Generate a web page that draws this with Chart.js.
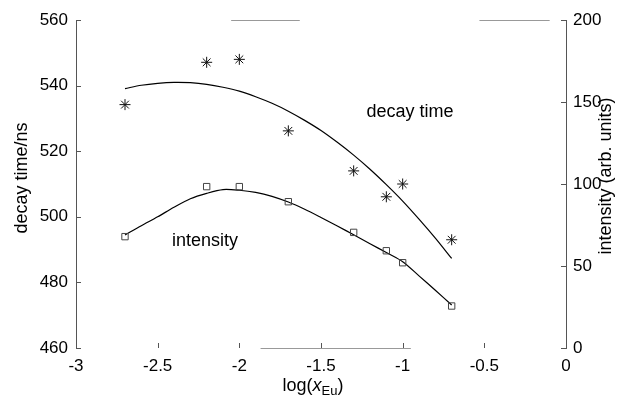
<!DOCTYPE html>
<html>
<head>
<meta charset="utf-8">
<script src="https://cdn.jsdelivr.net/npm/chart.js@4.4.0/dist/chart.umd.min.js"></script>
<style>
  body { margin: 0; background: #fff; }
  canvas { display: block; }
</style>
</head>
<body>
<canvas id="decayChart" width="632" height="401"></canvas>
<script>
// measured points (log of Eu fraction)
const logX = [-2.7, -2.2, -2.0, -1.7, -1.3, -1.1, -1.0, -0.7];
const decayTimes = [534.2, 547.1, 548.0, 526.2, 514.0, 506.1, 510.0, 493.0];
const intensities = [67.9, 98.4, 98.4, 89.2, 70.5, 59.3, 52.0, 25.6];

// fitted curves
const fitX = [-2.7, -2.6, -2.5, -2.4, -2.3, -2.2, -2.1, -2.0, -1.9, -1.8, -1.7,
              -1.6, -1.5, -1.4, -1.3, -1.2, -1.1, -1.0, -0.9, -0.8, -0.7];
const decayFit = [539.1, 540.1, 540.7, 541.0, 540.9, 540.4, 539.5, 538.3, 536.6, 534.6, 532.2,
                  529.4, 526.3, 522.7, 518.8, 514.5, 509.8, 504.8, 499.3, 493.5, 487.3];
const intensityFit = [68.9, 74.6, 80.0, 85.8, 91.0, 94.3, 96.6, 96.2, 94.9, 92.5, 89.0,
                      84.6, 79.6, 74.4, 69.0, 63.6, 58.2, 52.6, 44.0, 35.2, 26.2];

const xTicks = [-3, -2.5, -2, -1.5, -1, -0.5, 0];
const leftTicks = [460, 480, 500, 520, 540, 560];
const rightTicks = [0, 50, 100, 150, 200];

const FONT = '"Liberation Sans", Arial, Helvetica, sans-serif';

function pts(xs, ys) {
    return xs.map(function(x, i) { return { x: x, y: ys[i] }; });
}

// titles, inward ticks and in-plot labels
const decorPlugin = {
    id: 'decor',
    afterDraw: function(chart) {
        const ctx = chart.ctx;
        const a = chart.chartArea;
        const sx = chart.scales.x, sl = chart.scales.yL, sr = chart.scales.yR;
        ctx.save();

        // inward ticks
        ctx.strokeStyle = '#555';
        ctx.lineWidth = 1;
        ctx.beginPath();
        leftTicks.forEach(function(v) {
            const y = Math.round(sl.getPixelForValue(v)) + 0.5;
            ctx.moveTo(a.left, y); ctx.lineTo(a.left + 5, y);
        });
        rightTicks.forEach(function(v) {
            const y = Math.round(sr.getPixelForValue(v)) + 0.5;
            ctx.moveTo(a.right, y); ctx.lineTo(a.right - 5, y);
        });
        xTicks.forEach(function(v) {
            const x = Math.round(sx.getPixelForValue(v)) + 0.5;
            ctx.moveTo(x, a.bottom); ctx.lineTo(x, a.bottom - 5);
        });
        ctx.stroke();

        // faint remains of the box frame
        ctx.strokeStyle = '#999';
        ctx.beginPath();
        [[-2.05, -1.63], [-0.53, -0.1]].forEach(function(s) {
            ctx.moveTo(sx.getPixelForValue(s[0]), a.top + 0.5);
            ctx.lineTo(sx.getPixelForValue(s[1]), a.top + 0.5);
        });
        ctx.moveTo(sx.getPixelForValue(-1.87), a.bottom + 0.5);
        ctx.lineTo(sx.getPixelForValue(-0.95), a.bottom + 0.5);
        ctx.stroke();

        ctx.fillStyle = '#000';
        ctx.font = '18px ' + FONT;
        ctx.textAlign = 'center';
        ctx.textBaseline = 'middle';

        // labels inside the plot
        ctx.fillText('decay time', sx.getPixelForValue(-0.955), sl.getPixelForValue(532));
        ctx.fillText('intensity', sx.getPixelForValue(-2.21), sr.getPixelForValue(65.2));

        // y titles (both read bottom to top)
        const cy = (a.top + a.bottom) / 2;
        ctx.save();
        ctx.translate(22, cy - 6);
        ctx.rotate(-Math.PI / 2);
        ctx.fillText('decay time/ns', 0, 0);
        ctx.restore();
        ctx.save();
        ctx.translate(606, cy - 8);
        ctx.rotate(-Math.PI / 2);
        ctx.fillText('intensity (arb. units)', 0, 0);
        ctx.restore();

        // x title: log(x_Eu)
        const parts = [
            { t: 'log(', f: '18px ' + FONT, dy: 0 },
            { t: 'x', f: 'italic 18px ' + FONT, dy: 0 },
            { t: 'Eu', f: '13px ' + FONT, dy: 5 },
            { t: ')', f: '18px ' + FONT, dy: 0 }
        ];
        let total = 0;
        parts.forEach(function(p) { ctx.font = p.f; p.w = ctx.measureText(p.t).width; total += p.w; });
        let x = 313 - total / 2;
        ctx.textAlign = 'left';
        parts.forEach(function(p) {
            ctx.font = p.f;
            ctx.fillText(p.t, x, 386 + p.dy);
            x += p.w;
        });
        ctx.restore();
    }
};

const chartCtx = document.getElementById('decayChart').getContext('2d');
const decayChart = new Chart(chartCtx, {
    type: 'scatter',
    data: {
        datasets: [{
            label: 'decay time',
            data: pts(logX, decayTimes),
            yAxisID: 'yL',
            pointStyle: 'star',
            pointRadius: 5.5,
            borderColor: '#111',
            borderWidth: 1,
            showLine: false
        }, {
            label: 'decay fit',
            data: pts(fitX, decayFit),
            yAxisID: 'yL',
            pointRadius: 0,
            borderColor: '#000',
            borderWidth: 1.2,
            showLine: true,
            tension: 0.3
        }, {
            label: 'intensity',
            data: pts(logX, intensities),
            yAxisID: 'yR',
            pointStyle: 'rect',
            pointRadius: 4.5,
            backgroundColor: 'rgba(0,0,0,0)',
            borderColor: '#444',
            borderWidth: 1,
            showLine: false
        }, {
            label: 'intensity fit',
            data: pts(fitX, intensityFit),
            yAxisID: 'yR',
            pointRadius: 0,
            borderColor: '#000',
            borderWidth: 1.2,
            showLine: true,
            tension: 0.3
        }]
    },
    options: {
        responsive: false,
        animation: false,
        layout: { padding: { top: 20, left: 0, right: 0, bottom: 0 } },
        plugins: { legend: { display: false }, tooltip: { enabled: false } },
        scales: {
            x: {
                type: 'linear',
                min: -3, max: 0,
                afterFit: function(s) { s.height = 53; },
                afterBuildTicks: function(s) { s.ticks = xTicks.map(function(v) { return { value: v }; }); },
                grid: { display: false, drawTicks: false },
                border: { display: false },
                ticks: {
                    color: '#000', font: { family: FONT, size: 17 }, padding: 8, maxRotation: 0,
                    callback: function(v) { return String(v); }
                }
            },
            yL: {
                type: 'linear',
                position: 'left',
                min: 460, max: 560,
                afterFit: function(s) { s.width = 76; },
                afterBuildTicks: function(s) { s.ticks = leftTicks.map(function(v) { return { value: v }; }); },
                grid: { display: false, drawTicks: false },
                border: { display: true, color: '#555', width: 1 },
                ticks: { color: '#000', font: { family: FONT, size: 17 }, padding: 8 }
            },
            yR: {
                type: 'linear',
                position: 'right',
                min: 0, max: 200,
                afterFit: function(s) { s.width = 66; },
                afterBuildTicks: function(s) { s.ticks = rightTicks.map(function(v) { return { value: v }; }); },
                grid: { display: false, drawTicks: false },
                border: { display: true, color: '#555', width: 1 },
                ticks: { color: '#000', font: { family: FONT, size: 17 }, padding: 7 }
            }
        }
    },
    plugins: [decorPlugin]
});
</script>
</body>
</html>
